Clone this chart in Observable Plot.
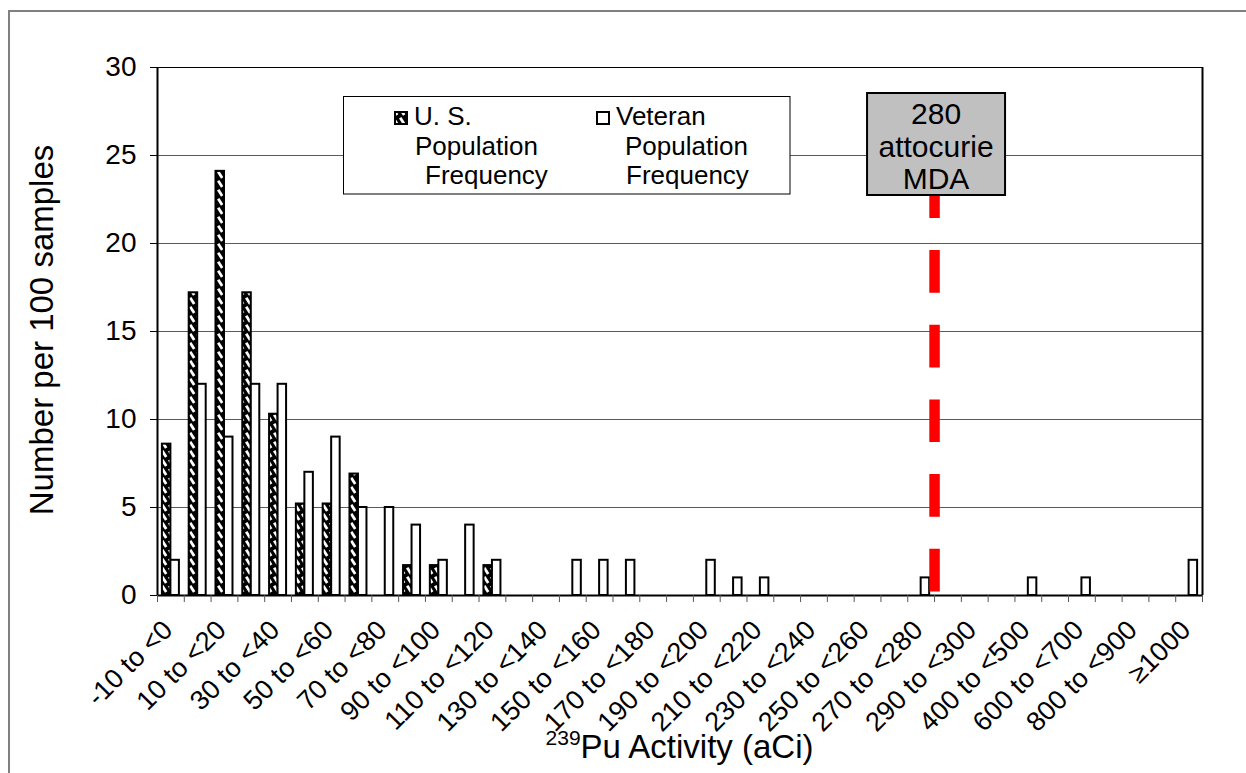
<!DOCTYPE html>
<html><head><meta charset="utf-8">
<script src="https://cdn.jsdelivr.net/npm/d3@7"></script>
<script src="https://cdn.jsdelivr.net/npm/@observablehq/plot@0.6"></script>
<style>body{margin:0;background:#fff;} svg{display:block}</style>
</head><body>
<svg width="0" height="0" style="position:absolute">
<defs>
<pattern id="hatchUS" patternUnits="userSpaceOnUse" width="7" height="9">
<rect width="7" height="9" fill="#000"/>
<path d="M1.2,0.8 L5.2,7" stroke="#fff" stroke-width="2.8"/>
</pattern>
</defs></svg>
<div id="chart"></div>
<script>
const categories = ["-10 to <0","0 to <10","10 to <20","20 to <30","30 to <40","40 to <50","50 to <60","60 to <70","70 to <80","80 to <90","90 to <100","100 to <110","110 to <120","120 to <130","130 to <140","140 to <150","150 to <160","160 to <170","170 to <180","180 to <190","190 to <200","200 to <210","210 to <220","220 to <230","230 to <240","240 to <250","250 to <260","260 to <270","270 to <280","280 to <290","290 to <300","300 to <400","400 to <500","500 to <600","600 to <700","700 to <800","800 to <900","900 to <1000","≥1000"];
const usFreq = [8.6,17.2,24.1,17.2,10.3,5.2,5.2,6.9,0,1.7,1.7,0,1.7,0,0,0,0,0,0,0,0,0,0,0,0,0,0,0,0,0,0,0,0,0,0,0,0,0,0];
const vetFreq = [2,12,9,12,12,7,9,5,5,4,2,4,2,0,0,2,2,2,0,0,2,1,1,0,0,0,0,0,1,0,0,0,1,0,1,0,0,0,2];
const yTicks = [0,5,10,15,20,25,30];
const xTickLabels = categories.filter((d,i)=>i%2===0);
const mdaBin = "280 to <290";
const mdaTop = 23;
const mdaLabel = ["280","attocurie","MDA"];
const usLegend = ["U. S.","Population","Frequency"];
const vetLegend = ["Veteran","Population","Frequency"];
const xTitleSup = "239";
const xTitleMain = "Pu Activity (aCi)";
const yTitle = "Number per 100 samples";

const W = 1246, H = 773, mL = 157, mR = 44, mT = 67, mB = 178;
const bw = (W - mL - mR) / categories.length;
const barW = 8.5;
const data = categories.map((c,i)=>({cat:c, us:usFreq[i], vet:vetFreq[i]}));
const font = "'Liberation Sans', Arial, sans-serif";

const chart = Plot.plot({
  width: W, height: H, marginLeft: mL, marginRight: mR, marginTop: mT, marginBottom: mB,
  style: {fontFamily: font, background: "#fff", color: "#000", overflow: "visible"},
  x: {domain: categories, padding: 0, round: false},
  y: {domain: [0,30]},
  marks: [
    Plot.ruleY([5,10,15,20,25], {stroke: "#5a5a5a", strokeWidth: 1}),
    Plot.ruleY([30], {stroke: "#000", strokeWidth: 1.2}),
    Plot.barY(data.filter(d=>d.us>0), {x:"cat", y:"us", fill:"url(#hatchUS)", stroke:"#000", strokeWidth:2, insetLeft: bw/2 - barW, insetRight: bw/2}),
    Plot.barY(data.filter(d=>d.vet>0), {x:"cat", y:"vet", fill:"#fff", stroke:"#000", strokeWidth:2, insetLeft: bw/2, insetRight: bw/2 - barW}),
    Plot.ruleY([0], {stroke:"#000", strokeWidth:2}),
    Plot.ruleX([categories[0]], {x: d=>d, dx: -bw/2, y1: 0, y2: 30, stroke:"#000", strokeWidth:2}),
    Plot.ruleX([categories[categories.length-1]], {x: d=>d, dx: bw/2, y1: 0, y2: 30, stroke:"#000", strokeWidth:2}),
    Plot.axisY({ticks: yTicks, tickSize: 7, tickPadding: 14, fontSize: 28, label: null}),
    Plot.axisX({ticks: categories, tickSize: 7, dx: -bw/2, tickFormat: () => "", label: null, stroke: "#555"}),
    Plot.axisX({ticks: [categories[categories.length-1]], tickSize: 7, dx: bw/2, tickFormat: () => "", label: null, stroke: "#555"}),
    Plot.axisX({ticks: xTickLabels, tickSize: 0, tickRotate: -45, tickPadding: 22, dy: 8, dx: -3, fontSize: 27, label: null}),
    Plot.ruleX([mdaBin], {x: d=>d, dx: -bw/2, y1: 0.2, y2: mdaTop, stroke:"#ff0000", strokeWidth:10.5, strokeDasharray:"42.7,32"})
  ]
});
document.getElementById("chart").appendChild(chart);

const svg = d3.select(chart);
const xs = chart.scale("x");
// outer frame
svg.append("rect").attr("x",9).attr("y",11).attr("width",1400).attr("height",900)
  .attr("fill","none").attr("stroke","#808080").attr("stroke-width",2);

// legend
const lg = svg.append("g").attr("font-family", font).attr("font-size", 26).attr("fill","#000").attr("text-anchor","start");
lg.append("rect").attr("x",343.5).attr("y",96.5).attr("width",446.5).attr("height",97.5)
  .attr("fill","#fff").attr("stroke","#000").attr("stroke-width",1);
lg.append("rect").attr("x",395).attr("y",112).attr("width",12).attr("height",12)
  .attr("fill","url(#hatchUS)").attr("stroke","#000").attr("stroke-width",2);
lg.append("rect").attr("x",597).attr("y",112).attr("width",12).attr("height",12)
  .attr("fill","#fff").attr("stroke","#000").attr("stroke-width",2);
const usX = [414,415,425], vetX = [616,625,626], lgY = [125,155,184];
usLegend.forEach((t,i)=>lg.append("text").attr("x",usX[i]).attr("y",lgY[i]).text(t));
vetLegend.forEach((t,i)=>lg.append("text").attr("x",vetX[i]).attr("y",lgY[i]).text(t));

// MDA box
const mx = xs.apply(mdaBin) + 2;
const mg = svg.append("g").attr("font-family", font).attr("font-size", 30).attr("fill","#000").attr("text-anchor","middle");
mg.append("rect").attr("x", mx-69).attr("y",93).attr("width",138).attr("height",102)
  .attr("fill","#c0c0c0").attr("stroke","#000").attr("stroke-width",2);
mdaLabel.forEach((t,i)=>mg.append("text").attr("x",mx).attr("y",124+i*32.5).text(t));

// axis titles
const xt = svg.append("text").attr("x", (mL + W - mR)/2).attr("y", 758).attr("text-anchor","middle")
  .attr("font-family", font).attr("font-size", 33).attr("fill","#000");
xt.append("tspan").attr("font-size", 21).attr("dy", -13).text(xTitleSup);
xt.append("tspan").attr("dy", 13).text(xTitleMain);
svg.append("text").attr("transform","translate(53,330) rotate(-90)").attr("text-anchor","middle")
  .attr("font-family", font).attr("font-size", 33).attr("fill","#000").text(yTitle);
</script>
</body></html>
